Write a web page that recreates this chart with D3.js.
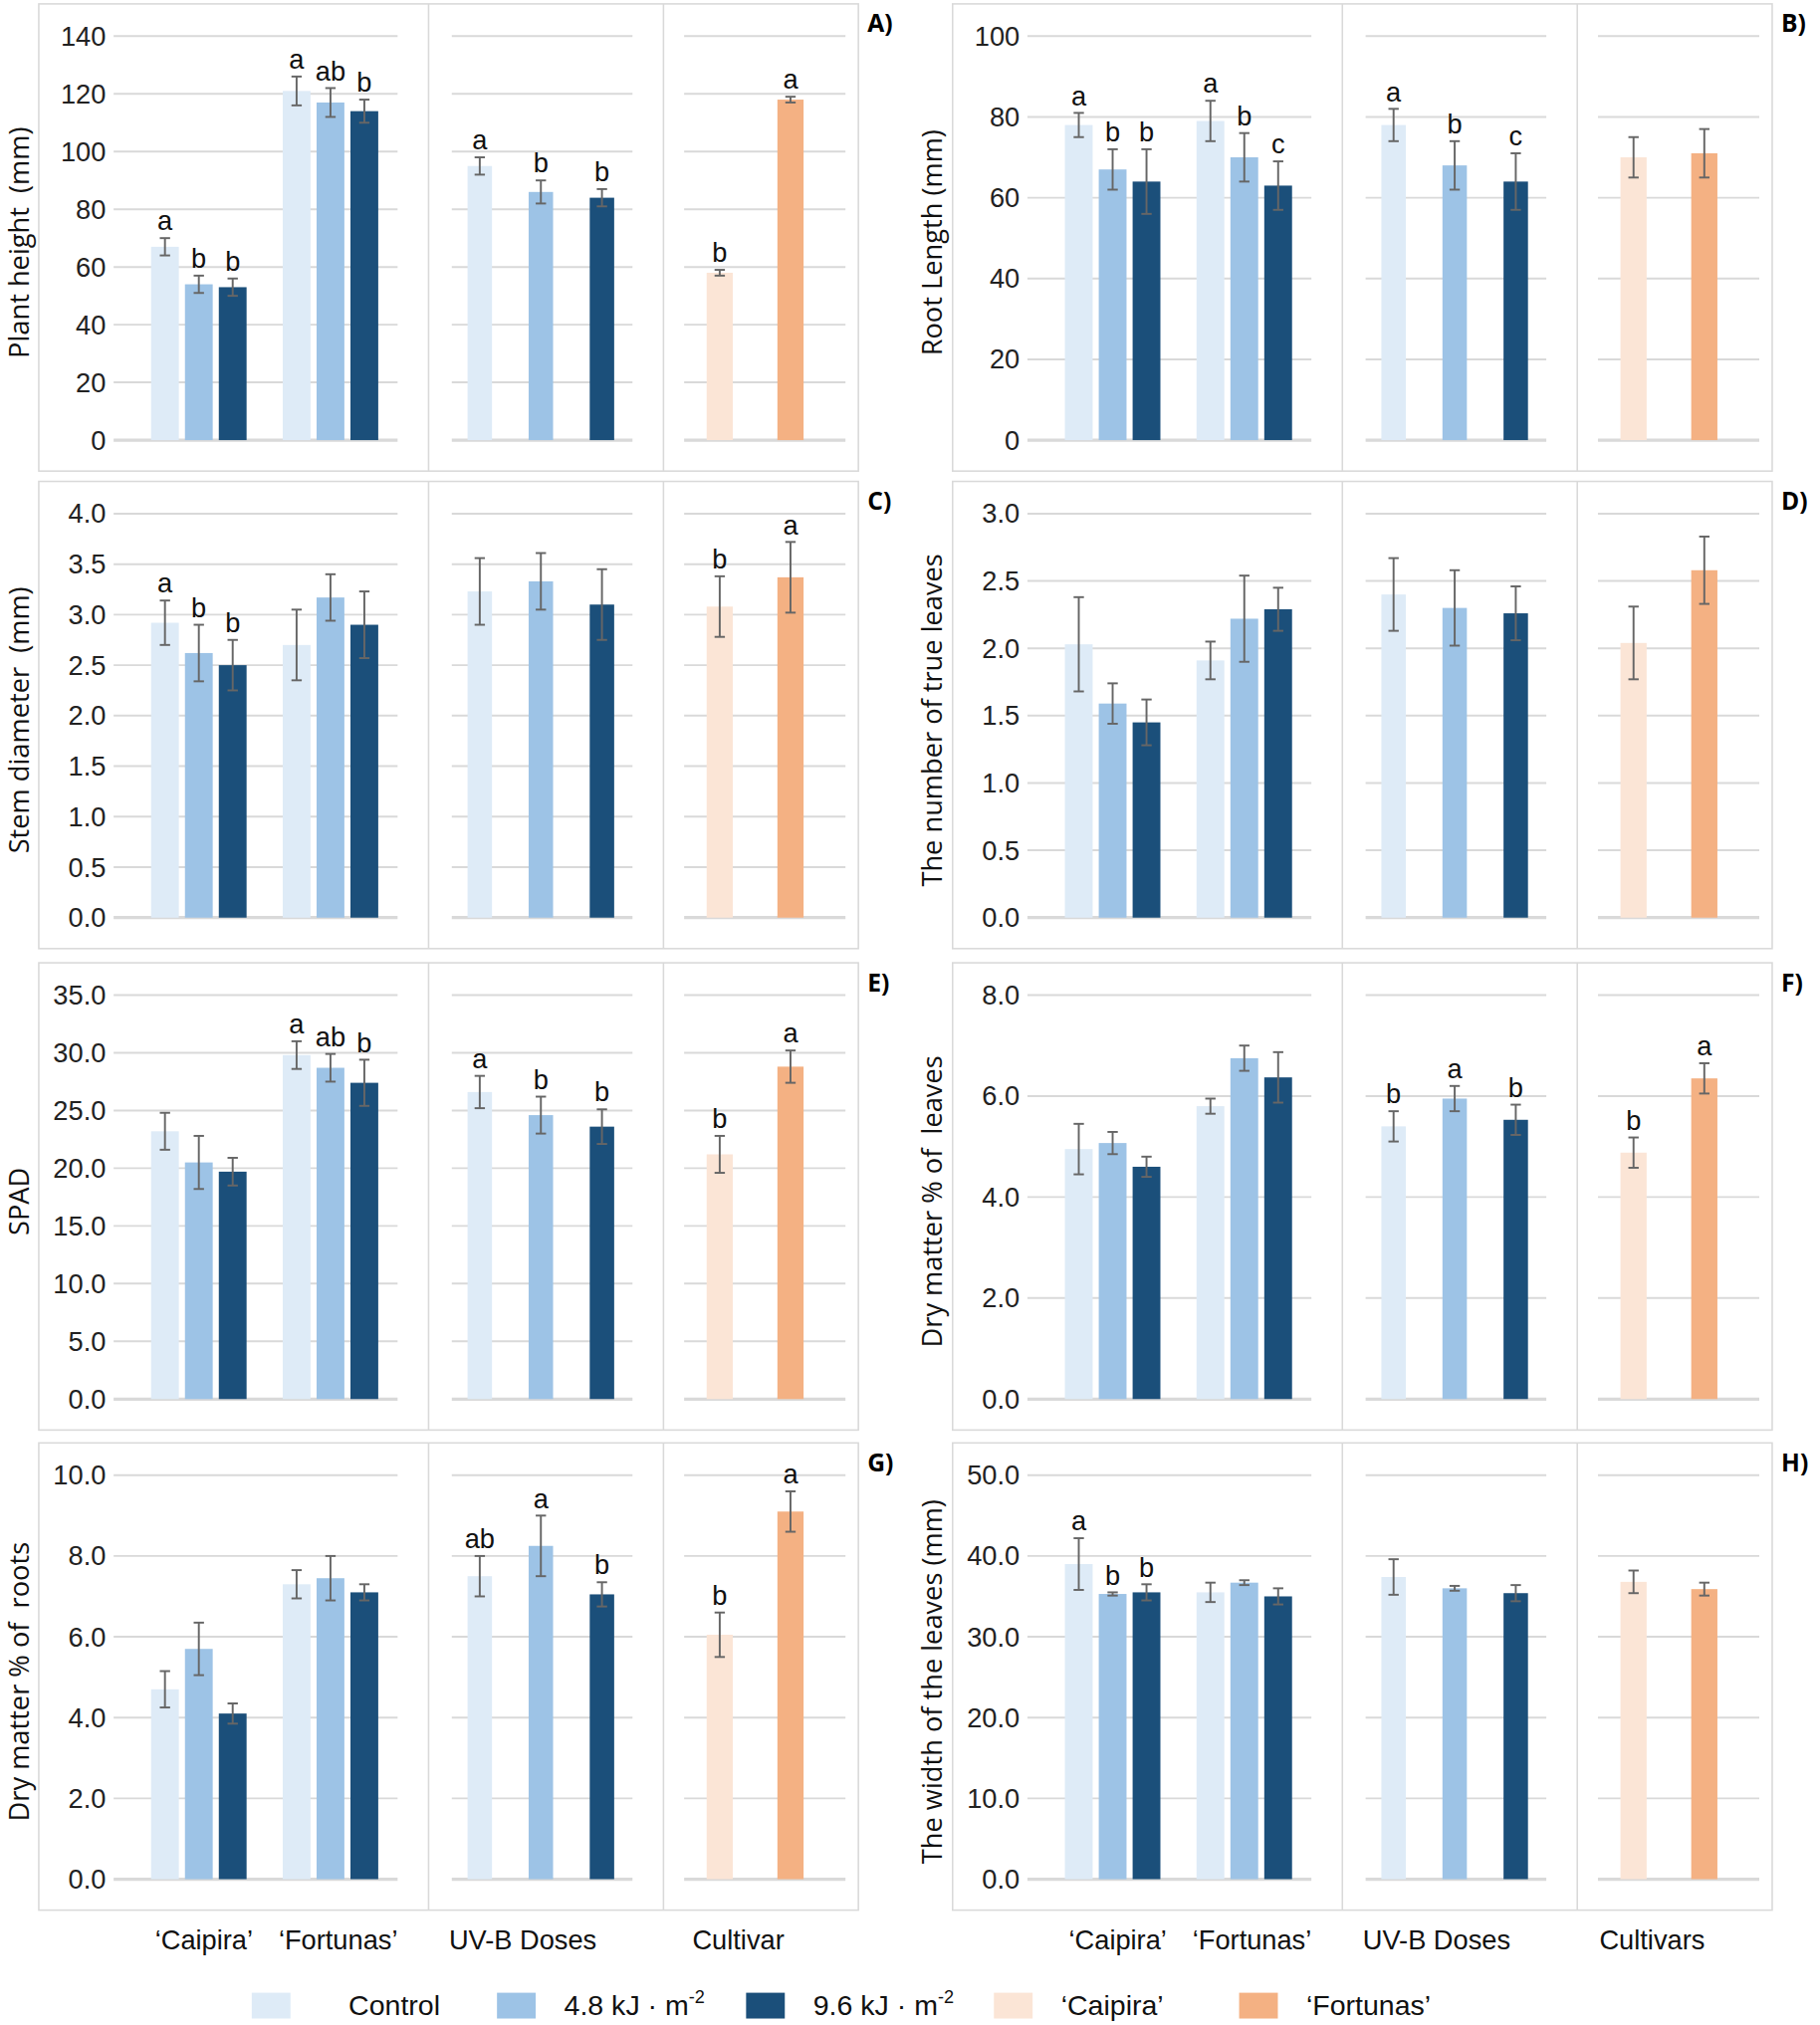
<!DOCTYPE html>
<html><head><meta charset="utf-8">
<script src="https://cdn.jsdelivr.net/npm/d3@7"></script>
<style>body{margin:0;background:#fff}</style>
</head><body><svg></svg>
<script>
const W = 1828, H = 2034;
const colors = ["#deebf7", "#9dc3e6", "#1b4f7a"];
const cultColors = ["#fbe5d6", "#f4b183"];
const groups = ["‘Caipira’", "‘Fortunas’"];
const doses = ["Control", "4.8", "9.6"];

const panelA = {id: "A)", title: "Plant height  (mm)", max: 140, step: 20, fmt: "d",
  caipira: [67, 54, 53], caipiraErr: [3, 3, 3], caipiraLet: ["a", "b", "b"],
  fortunas: [121, 117, 114], fortunasErr: [5, 5, 4], fortunasLet: ["a", "ab", "b"],
  uv: [95, 86, 84], uvErr: [3, 4, 3], uvLet: ["a", "b", "b"],
  cult: [58, 118], cultErr: [1, 1], cultLet: ["b", "a"]};
const panelB = {id: "B)", title: "Root Length (mm)", max: 100, step: 20, fmt: "d",
  caipira: [78, 67, 64], caipiraErr: [3, 5, 8], caipiraLet: ["a", "b", "b"],
  fortunas: [79, 70, 63], fortunasErr: [5, 6, 6], fortunasLet: ["a", "b", "c"],
  uv: [78, 68, 64], uvErr: [4, 6, 7], uvLet: ["a", "b", "c"],
  cult: [70, 71], cultErr: [5, 6], cultLet: ["", ""]};
const panelC = {id: "C)", title: "Stem diameter  (mm)", max: 4, step: 0.5, fmt: ".1f",
  caipira: [2.92, 2.62, 2.5], caipiraErr: [0.22, 0.28, 0.25], caipiraLet: ["a", "b", "b"],
  fortunas: [2.7, 3.17, 2.9], fortunasErr: [0.35, 0.23, 0.33], fortunasLet: ["", "", ""],
  uv: [3.23, 3.33, 3.1], uvErr: [0.33, 0.28, 0.35], uvLet: ["", "", ""],
  cult: [3.08, 3.37], cultErr: [0.3, 0.35], cultLet: ["b", "a"]};
const panelD = {id: "D)", title: "The number of true leaves", max: 3, step: 0.5, fmt: ".1f",
  caipira: [2.03, 1.59, 1.45], caipiraErr: [0.35, 0.15, 0.17], caipiraLet: ["", "", ""],
  fortunas: [1.91, 2.22, 2.29], fortunasErr: [0.14, 0.32, 0.16], fortunasLet: ["", "", ""],
  uv: [2.4, 2.3, 2.26], uvErr: [0.27, 0.28, 0.2], uvLet: ["", "", ""],
  cult: [2.04, 2.58], cultErr: [0.27, 0.25], cultLet: ["", ""]};
const panelE = {id: "E)", title: "SPAD", max: 35, step: 5, fmt: ".1f",
  caipira: [23.2, 20.5, 19.7], caipiraErr: [1.6, 2.3, 1.2], caipiraLet: ["", "", ""],
  fortunas: [29.8, 28.7, 27.4], fortunasErr: [1.2, 1.2, 2], fortunasLet: ["a", "ab", "b"],
  uv: [26.6, 24.6, 23.6], uvErr: [1.4, 1.6, 1.5], uvLet: ["a", "b", "b"],
  cult: [21.2, 28.8], cultErr: [1.6, 1.4], cultLet: ["b", "a"]};
const panelF = {id: "F)", title: "Dry matter % of  leaves", max: 8, step: 2, fmt: ".1f",
  caipira: [4.95, 5.07, 4.6], caipiraErr: [0.5, 0.22, 0.2], caipiraLet: ["", "", ""],
  fortunas: [5.8, 6.75, 6.37], fortunasErr: [0.15, 0.25, 0.5], fortunasLet: ["", "", ""],
  uv: [5.4, 5.95, 5.53], uvErr: [0.3, 0.25, 0.3], uvLet: ["b", "a", "b"],
  cult: [4.88, 6.35], cultErr: [0.3, 0.3], cultLet: ["b", "a"]};
const panelG = {id: "G)", title: "Dry matter % of  roots", max: 10, step: 2, fmt: ".1f",
  caipira: [4.7, 5.7, 4.1], caipiraErr: [0.45, 0.65, 0.25], caipiraLet: ["", "", ""],
  fortunas: [7.3, 7.45, 7.1], fortunasErr: [0.35, 0.55, 0.2], fortunasLet: ["", "", ""],
  uv: [7.5, 8.25, 7.05], uvErr: [0.5, 0.75, 0.3], uvLet: ["ab", "a", "b"],
  cult: [6.05, 9.1], cultErr: [0.55, 0.5], cultLet: ["b", "a"], xlab: "Cultivar"};
const panelH = {id: "H)", title: "The width of the leaves (mm)", max: 50, step: 10, fmt: ".1f",
  caipira: [39, 35.3, 35.5], caipiraErr: [3.2, 0.2, 1], caipiraLet: ["a", "b", "b"],
  fortunas: [35.5, 36.7, 35], fortunasErr: [1.2, 0.3, 1], fortunasLet: ["", "", ""],
  uv: [37.4, 36, 35.4], uvErr: [2.2, 0.3, 1], uvLet: ["", "", ""],
  cult: [36.8, 35.9], cultErr: [1.4, 0.8], cultLet: ["", ""], xlab: "Cultivars"};

const legendLabels = ["Control", "4.8 kJ · m", "9.6 kJ · m", "‘Caipira’", "‘Fortunas’"];

const svg = d3.select("svg").attr("width", W).attr("height", H)
  .attr("viewBox", "0 0 1410 1569");
const font = "'Liberation Sans Narrow', 'Liberation Sans', sans-serif";
const titleFont = "'Open Sans', 'DejaVu Sans', sans-serif";

const layout = [
  [panelA, 30, 3], [panelB, 738, 3],
  [panelC, 30, 373], [panelD, 738, 373],
  [panelE, 30, 746], [panelF, 738, 746],
  [panelG, 30, 1118], [panelH, 738, 1118]
];

function drawPanel(p, L, T) {
  const g = svg.append("g");
  const y = d3.scaleLinear().domain([0, p.max]).range([T + 338, T + 25]);
  const ticks = d3.range(0, p.max + p.step / 2, p.step);
  g.append("rect").attr("x", L).attr("y", T).attr("width", 635).attr("height", 362)
    .attr("fill", "none").attr("stroke", "#d9d9d9").attr("stroke-width", 1.2);
  [302, 484].forEach(d => g.append("line").attr("x1", L + d).attr("x2", L + d)
    .attr("y1", T).attr("y2", T + 362).attr("stroke", "#d9d9d9").attr("stroke-width", 1.2));
  [[58, 278], [320, 460], [500, 625]].forEach(([a, b]) => {
    g.selectAll(null).data(ticks).enter().append("line")
      .attr("x1", L + a).attr("x2", L + b).attr("y1", d => y(d)).attr("y2", d => y(d))
      .attr("stroke", "#d9d9d9").attr("stroke-width", d => d === 0 ? 2.5 : 1.5);
  });
  g.selectAll(null).data(ticks).enter().append("text")
    .attr("x", L + 52).attr("y", d => y(d)).attr("dy", "0.35em").attr("text-anchor", "end")
    .attr("font-family", font).attr("font-size", 21).attr("fill", "#222")
    .text(d => d3.format(p.fmt)(d));
  g.append("text").attr("transform", `translate(${L - 8},${T + 185}) rotate(-90)`)
    .attr("text-anchor", "middle").attr("font-family", titleFont).attr("font-size", 21)
    .attr("fill", "#111").style("white-space", "pre").text(p.title);
  g.append("text").attr("x", L + 642).attr("y", T + 22).attr("font-family", titleFont)
    .attr("font-weight", "bold").attr("font-size", 19).text(p.id);

  const bars = [];
  const gx = d3.scaleBand().domain(groups).range([L + 73, L + 277]);
  const ix = d3.scaleBand().domain(doses).range([14, 88]).paddingInner(0.18);
  [[p.caipira, p.caipiraErr, p.caipiraLet], [p.fortunas, p.fortunasErr, p.fortunasLet]]
    .forEach(([v, e, l], gi) => v.forEach((d, i) => bars.push({
      x: gx(groups[gi]) + ix(doses[i]), w: ix.bandwidth(), v: d, e: e[i], l: l[i], c: colors[i]})));
  const ux = d3.scaleBand().domain(doses).range([L + 318, L + 460]).paddingInner(0.6).paddingOuter(0.3);
  p.uv.forEach((d, i) => bars.push({x: ux(doses[i]), w: ux.bandwidth(), v: d, e: p.uvErr[i], l: p.uvLet[i], c: colors[i]}));
  const cx = d3.scaleBand().domain(groups).range([L + 501, L + 609]).paddingInner(0.63).paddingOuter(0.3);
  p.cult.forEach((d, i) => bars.push({x: cx(groups[i]), w: cx.bandwidth(), v: d, e: p.cultErr[i], l: p.cultLet[i], c: cultColors[i]}));

  g.selectAll(null).data(bars).enter().append("rect")
    .attr("x", d => d.x).attr("width", d => d.w).attr("y", d => y(d.v))
    .attr("height", d => y(0) - y(d.v)).attr("fill", d => d.c);
  const eb = g.selectAll(null).data(bars).enter().append("g").attr("stroke", "#666").attr("stroke-width", 1.5);
  eb.append("line").attr("x1", d => d.x + d.w / 2).attr("x2", d => d.x + d.w / 2)
    .attr("y1", d => y(d.v - d.e)).attr("y2", d => y(d.v + d.e));
  eb.append("line").attr("x1", d => d.x + d.w / 2 - 4).attr("x2", d => d.x + d.w / 2 + 4)
    .attr("y1", d => y(d.v - d.e)).attr("y2", d => y(d.v - d.e));
  eb.append("line").attr("x1", d => d.x + d.w / 2 - 4).attr("x2", d => d.x + d.w / 2 + 4)
    .attr("y1", d => y(d.v + d.e)).attr("y2", d => y(d.v + d.e));
  g.selectAll(null).data(bars.filter(d => d.l)).enter().append("text")
    .attr("x", d => d.x + d.w / 2).attr("y", d => y(d.v + d.e) - 6).attr("text-anchor", "middle")
    .attr("font-family", font).attr("font-size", 21).attr("fill", "#111").text(d => d.l);

  if (p.xlab) {
    const ly = T + 392;
    const xl = g.append("g").attr("font-family", font).attr("font-size", 21).attr("fill", "#111")
      .attr("text-anchor", "middle");
    groups.forEach(n => xl.append("text").attr("x", gx(n) + 51 + (n === groups[1] ? 6 : 4)).attr("y", ly).text(n));
    xl.append("text").attr("x", L + 375).attr("y", ly).text("UV-B Doses");
    xl.append("text").attr("x", L + 542).attr("y", ly).text(p.xlab);
  }
}
layout.forEach(([p, L, T]) => drawPanel(p, L, T));

const legX = [195, 385, 578, 770, 960];
const legFill = colors.concat(cultColors);
const lg = svg.append("g").attr("font-family", font).attr("font-size", 22).attr("fill", "#111");
legendLabels.forEach((t, i) => {
  lg.append("rect").attr("x", legX[i]).attr("y", 1544).attr("width", 30).attr("height", 20).attr("fill", legFill[i]);
  const tx = lg.append("text").attr("x", legX[i] + (i === 0 ? 75 : 52)).attr("y", 1561).text(t);
  if (i === 1 || i === 2) tx.append("tspan").attr("dy", -9).attr("font-size", 14).text("-2");
});
</script></body></html>
